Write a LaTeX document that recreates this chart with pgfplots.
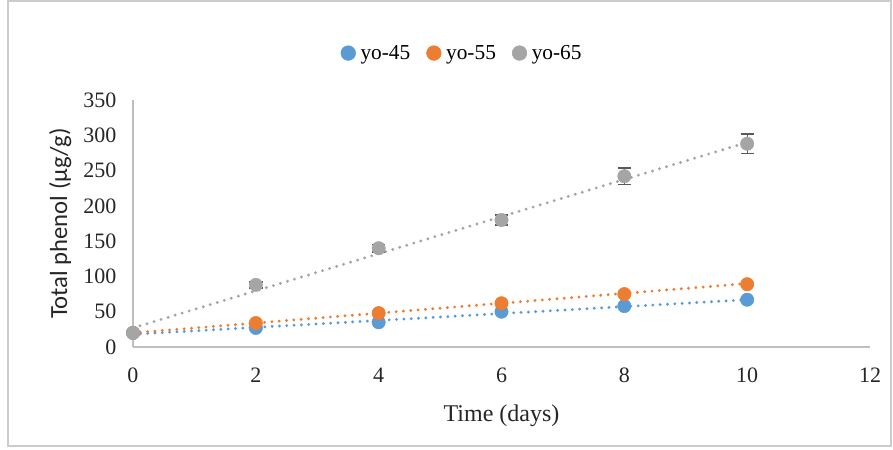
\documentclass[border=0pt]{standalone}
\usepackage{pgfplots}
\pgfplotsset{compat=1.18}
\usepackage{fontspec}
\setmainfont{Liberation Serif}
\newfontfamily\calfont{Carlito}
\definecolor{cblue}{HTML}{5B9BD5}
\definecolor{corange}{HTML}{ED7D31}
\definecolor{cgray}{HTML}{A5A5A5}
\definecolor{axgray}{HTML}{BFBFBF}
\begin{document}
\begin{tikzpicture}[x=0.75pt,y=0.75pt]
\useasboundingbox (0,0) rectangle (893,450);
\draw[black!20, line width=0.8pt] (8,4) rectangle (891,449);
\begin{axis}[
  at={(133pt*0.75,103pt*0.75)}, anchor=origin,
  scale only axis,
  width=552.75pt, height=185.25pt,
  xmin=0, xmax=12, ymin=0, ymax=350,
  xtick={0,2,...,12}, ytick={0,50,...,350},
  axis x line*=bottom, axis y line*=left,
  axis line style={axgray, line width=1pt},
  x axis line style={-}, y axis line style={-},
  major tick length=0pt,
  tick label style={font=\fontsize{16.5}{18}\selectfont, black!85},
  /pgf/number format/assume math mode=true,
  xticklabel style={yshift=-12pt},
  yticklabel style={xshift=-9pt},
  xlabel={Time (days)}, xlabel style={font=\fontsize{18}{20}\selectfont, black!85, yshift=-10pt},
  ylabel={\calfont Total phenol (µg/g)}, ylabel style={font=\fontsize{18.5}{21}\selectfont, black!85, yshift=2pt},
  clip=false,
  legend style={at={(0.447,1.19)}, anchor=center, draw=none, fill=none,
    legend columns=3, font=\fontsize{16}{18}\selectfont,
    /tikz/every odd column/.append style={column sep=1.5pt},
    /tikz/every even column/.append style={column sep=10pt}},
  legend image code/.code={\fill[#1] (0pt,0pt) circle (5.5pt);},
]
% data points
\addplot[only marks, mark=*, mark size=5pt, color=cblue] coordinates {(0,20) (2,27) (4,35) (6,50) (8,58) (10,67)};
\addlegendentry{yo-45}
\addplot[only marks, mark=*, mark size=5pt, color=corange] coordinates {(0,20) (2,34) (4,48) (6,62) (8,75) (10,89)};
\addlegendentry{yo-55}
\addplot[only marks, mark=*, mark size=5pt, color=cgray,
  error bars/.cd, y dir=both, y explicit,
  error bar style={black!65, line width=1pt},
  error mark options={rotate=90, mark size=5pt, line width=1.2pt, black!65}]
  coordinates {(0,20) +- (0,2) (2,88) +- (0,4) (4,140) +- (0,5) (6,180) +- (0,7) (8,242) +- (0,12) (10,288) +- (0,14)};
\addlegendentry{yo-65}
% trendlines
\addplot[cblue, line width=2.4pt, line cap=round, dash pattern=on 0pt off 5.5pt, forget plot] coordinates {(0,18) (10,67)};
\addplot[corange, line width=2.4pt, line cap=round, dash pattern=on 0pt off 5.5pt, forget plot] coordinates {(0,20) (10,90)};
\addplot[cgray, line width=2.4pt, line cap=round, dash pattern=on 0pt off 5.5pt, forget plot] coordinates {(0,27) (10,290)};
\end{axis}
\end{tikzpicture}
\end{document}
